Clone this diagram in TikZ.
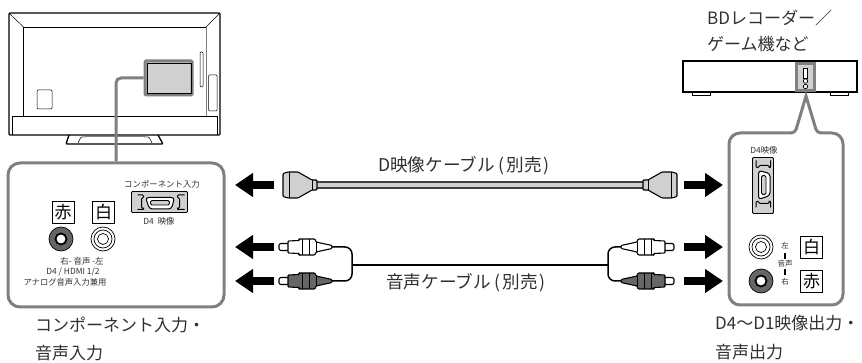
\documentclass[tikz,border=0pt]{standalone}
\usepackage{fontspec}
\setmainfont{Noto Sans CJK JP}
\usetikzlibrary{arrows.meta,positioning}

\definecolor{calloutgrey}{HTML}{808080}
\definecolor{portgrey}{HTML}{D0D0D0}
\definecolor{redjack}{HTML}{666666}
\definecolor{labelink}{HTML}{303030}

\newcommand{\bigtext}{\fontsize{17}{17}\selectfont}
\newcommand{\cabletext}{\fontsize{17.6}{17.6}\selectfont}
\newcommand{\smalltext}{\fontsize{8.4}{8.4}\selectfont}
\newcommand{\sold}{\hspace{4pt}(\hspace{2pt}別売\hspace{2pt})}

\tikzset{
    tvline/.style={draw=black, line width=0.8pt},
    callout/.style={draw=calloutgrey, line width=3pt},
    bigarrow/.style={line width=8pt, -{Triangle[length=18pt,width=23pt]}},
    title/.style={inner sep=0pt, anchor=west, text=labelink, font=\bigtext},
    cablelabel/.style={inner sep=0pt, anchor=west, text=labelink, font=\cabletext},
    tiny/.style={inner sep=0pt, text=labelink, font=\smalltext},
    colourbox/.style={draw=black, line width=0.7pt, fill=white, minimum width=22pt, minimum height=22pt, inner sep=0pt, font=\fontsize{17}{17}\selectfont},
    % D connector on a panel, centred on the origin
    dport/.pic={
        \draw[fill=portgrey, line width=0.9pt, rounded corners=1pt] (-28,-10.5) rectangle (28,10.5);
        \draw[line width=1pt, rounded corners=1pt] (-22,-7) -- (-16,-7) -- (-16,-4) -- (-18,-4) -- (-18,6) -- (-16,6) -- (-16,7.5) -- (-22,7.5);
        \draw[line width=1pt, rounded corners=1pt] (25,-7) -- (18,-7) -- (18,-4) -- (20,-4) -- (20,6) -- (18,6) -- (18,7.5) -- (25,7.5);
        \draw[fill=white, line width=1pt, rounded corners=3pt] (-14,-4.5) -- (15,-4.5) -- (12,7) -- (-10,7) -- cycle;
        \draw[fill=portgrey, line width=0.8pt, rounded corners=1.5pt] (-9,-1.5) rectangle (10,3);
    },
    % D plug, mating end at the origin
    dplug/.pic={
        \draw[fill=portgrey, line width=1.1pt, rounded corners=1pt] (1,-11.5) -- (6,-13) -- (16,-13) -- (30,-5) -- (35,-5) -- (35,5) -- (30,5) -- (16,13) -- (6,13) -- (1,11.5) -- cycle;
        \draw[line width=0.9pt] (30,-5) -- (30,5);
        \draw[line width=0.7pt] (7,-13) -- (7,13);
    },
    % RCA plug, pin tip at the origin
    rcaplug/.pic={
        \draw[fill=white, line width=1.1pt, rounded corners=2pt] (1,-3.5) rectangle (11,3.5);
        \draw[fill=#1, line width=1.1pt, rounded corners=1pt] (10,-6) -- (21,-6.5) -- (21,-8) -- (37,-8) -- (38,-5) -- (54,-1.5) -- (54,1.5) -- (38,5) -- (37,8) -- (21,8) -- (21,6.5) -- (10,6) -- cycle;
        \draw[line width=0.7pt] (24,-8) -- (24,8) (31,-8) -- (31,8) (38,-5) -- (38,5);
    },
}

\begin{document}
\begin{tikzpicture}[x=1pt,y=-1pt]
    \useasboundingbox (0,0) rectangle (862,363);

    % Television
    \draw[tvline, line width=1.3pt, rounded corners=1pt] (9,13) rectangle (220,135);
    \draw[tvline, line width=0.5pt] (9,13) -- (23.5,27) (220,13) -- (206,27);
    \draw[tvline, line width=0.6pt] (23.5,116) -- (23.5,27) -- (206,27);
    \draw[draw=calloutgrey, line width=0.8pt] (206,27) -- (206,116);
    \draw[tvline, line width=0.7pt] (12,116) -- (217,116) -- (217,135);
    \draw[tvline, line width=0.7pt] (12,116) -- (12,135);
    \draw[tvline, line width=0.5pt, rounded corners=1pt] (37,90) rectangle (52,109);
    \draw[tvline, line width=0.5pt, rounded corners=1pt] (200,52) rectangle (203,87);
    \draw[tvline, line width=0.5pt, fill=white, rounded corners=1pt] (208.5,75) rectangle (217,111);
    % Stand
    \draw[tvline, line width=1.3pt, rounded corners=1pt] (69,135) -- (66,144) -- (163,144) -- (158,135);
    \draw[tvline, line width=0.5pt, rounded corners=1pt] (78,143) -- (81,137) -- (86,137) (144,137) -- (149,137) -- (152,143);
    \draw[draw=calloutgrey, line width=1.6pt] (85,136.5) -- (145,136.5);

    % Port area on the television
    \node[draw=calloutgrey, line width=3pt, fill=portgrey, minimum width=47pt, minimum height=34pt, inner sep=0pt, rounded corners=1pt] (tvport) at (168.5,78) {};
    \draw[tvline, line width=0.6pt] (147,63) rectangle (191,93);

    % Left panel
    \node[callout, fill=white, rounded corners=12pt, minimum width=216pt, minimum height=144pt, inner sep=0pt] (panelIn) at (116,235) {};
    \draw[callout, rounded corners=5pt] (tvport.west) -| (panelIn.north);

    \node[tiny] (inName) at (162,184) {コンポーネント入力};
    \path (159.5,202) pic {dport};
    \node[tiny] (inVideo) at (159,221) {D4\hspace{4pt}映像};
    \node[colourbox] (inRed) at (63,212.5) {赤};
    \node[colourbox] (inWhite) at (103.5,212.5) {白};
    \draw[line width=0.7pt, fill=redjack] (61,239) circle (12);
    \draw[line width=1.8pt, fill=white] (61,239) circle (5.5);
    \draw[line width=0.7pt] (103,239) circle (12);
    \draw[line width=0.7pt] (103,239) circle (9);
    \draw[line width=0.7pt] (103,239) circle (5.5);
    \node[tiny] (inAudio) at (82,261) {右- 音声 -左};
    \node[tiny] (inHdmi) at (73,272) {D4 / HDMI 1/2};
    \node[tiny, font=\fontsize{8.3}{8.3}\selectfont] (inAnalog) at (65,282) {アナログ音声入力兼用};

    \node[title] (titleIn) at (35,325) {コンポーネント入力・};
    \node[title] (titleInB) at (35,353) {音声入力};

    % Recorder
    \node[title] (titleBd) at (707,18) {BDレコーダー／};
    \node[title] (titleBdB) at (707,44) {ゲーム機など};
    \draw[tvline, line width=1.1pt] (683,61) rectangle (857,92);
    \draw[tvline, line width=0.7pt] (692,92) -- (692,95) -- (710,95) -- (710,92);
    \draw[tvline, line width=0.7pt] (830,92) -- (830,95) -- (848,95) -- (848,92);
    \node[draw=calloutgrey, line width=2.5pt, fill=portgrey, minimum width=18pt, minimum height=27pt, inner sep=0pt] (bdPort) at (805.5,77) {};
    \draw[line width=0.7pt, fill=white] (803.5,68) rectangle (807.5,78);
    \draw[line width=0.7pt, fill=white] (805.5,81) circle (2.2);
    \draw[line width=0.7pt, fill=white] (805.5,86.5) circle (2.2);

    % Right panel with its peak
    \draw[callout, fill=white] (806,96) [rounded corners=4pt] -- (817,133) [rounded corners=11pt] -- (843,133) -- (843,305) -- (729,305) -- (729,133) [rounded corners=4pt] -- (795,133) [sharp corners] -- cycle;

    \node[tiny] (outVideo) at (764,150) {D4映像};
    \path (763,185.5) pic[rotate=90] {dport};
    \draw[line width=0.7pt] (761,247) circle (12);
    \draw[line width=0.7pt] (761,247) circle (9);
    \draw[line width=0.7pt] (761,247) circle (5.5);
    \draw[line width=0.7pt, fill=redjack] (761,281) circle (12);
    \draw[line width=1.8pt, fill=white] (761,281) circle (5.5);
    \node[tiny, font=\fontsize{7.5}{7.5}\selectfont] (outLeft) at (785,246) {左};
    \node[tiny, font=\fontsize{7.5}{7.5}\selectfont] (outAudio) at (785,264) {音声};
    \node[tiny, font=\fontsize{7.5}{7.5}\selectfont] (outRight) at (785,282) {右};
    \draw[line width=1.4pt] (785,253) -- (785,259);
    \draw[line width=1.4pt] (785,269) -- (785,275);
    \node[colourbox] (outWhite) at (811.5,247) {白};
    \node[colourbox] (outRed) at (811.5,281) {赤};

    \node[title] (titleOut) at (715,323) {D4〜D1映像出力・};
    \node[title] (titleOutB) at (715,352) {音声出力};

    % Arrows
    \foreach \name/\rowy in {Video/185, White/247, Red/281} {
        \coordinate (left\name Tail) at (274,\rowy);
        \coordinate (left\name Tip) at (235,\rowy);
        \coordinate (right\name Tail) at (684,\rowy);
        \coordinate (right\name Tip) at (723,\rowy);
        \draw[bigarrow] (left\name Tail) -- (left\name Tip);
        \draw[bigarrow] (right\name Tail) -- (right\name Tip);
    }

    % D cable
    \coordinate (dLeft) at (317,185);
    \coordinate (dRight) at (643,185);
    \draw[line width=8pt, draw=black!75] (dLeft) -- (dRight);
    \draw[line width=4.5pt, draw=portgrey] (dLeft) -- (dRight);
    \path (282,185) pic {dplug};
    \path (678,185) pic[xscale=-1] {dplug};
    \node[cablelabel] (dLabel) at (378,166) {D映像ケーブル\sold};

    % Audio cable
    \coordinate (audioLW) at (332,247);
    \coordinate (audioLR) at (332,281);
    \coordinate (audioRW) at (622,247);
    \coordinate (audioRR) at (622,281);
    \coordinate (audioLJoin) at (352,265);
    \coordinate (audioRJoin) at (608,265);
    \draw[line width=1.5pt, rounded corners=7pt] (audioLW) -| (audioLJoin) |- (audioLR);
    \draw[line width=1.5pt, rounded corners=7pt] (audioRW) -| (audioRJoin) |- (audioRR);
    \draw[line width=1.5pt] (audioLJoin) -- (audioRJoin);
    \path (278,247) pic {rcaplug=white};
    \path (278,281) pic {rcaplug=redjack};
    \path (675,247) pic[xscale=-1] {rcaplug=white};
    \path (675,281) pic[xscale=-1] {rcaplug=redjack};
    \node[cablelabel] (audioLabel) at (386,283) {音声ケーブル\sold};
\end{tikzpicture}
\end{document}
